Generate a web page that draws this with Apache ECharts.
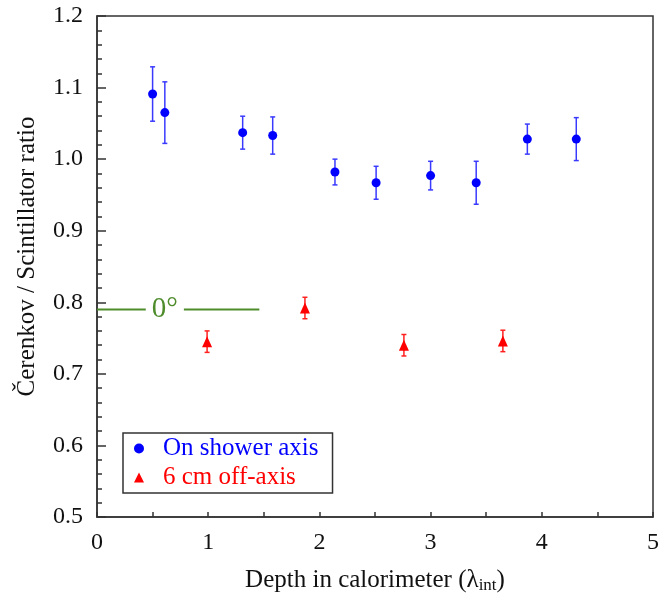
<!DOCTYPE html>
<html>
<head>
<meta charset="utf-8">
<script src="https://cdn.jsdelivr.net/npm/echarts@6/dist/echarts.min.js"></script>
<style>html,body{margin:0;padding:0;background:#fff}#c{width:662px;height:599px}</style>
</head>
<body>
<div id="c"></div>
<script>
// On shower axis
const blueX = [0.50, 0.61, 1.31, 1.58, 2.14, 2.51, 3.00, 3.41, 3.87, 4.31];
const blueY = [1.091, 1.065, 1.037, 1.033, 0.982, 0.967, 0.977, 0.967, 1.028, 1.028];
const blueErr = [0.038, 0.043, 0.023, 0.026, 0.018, 0.023, 0.020, 0.030, 0.021, 0.030];
// 6 cm off-axis
const redX = [0.99, 1.87, 2.76, 3.65];
const redY = [0.745, 0.792, 0.740, 0.746];
const redErr = [0.015, 0.015, 0.015, 0.015];
// 0 degree reference line
const refX = [0, 1.46];
const refY = 0.79;
const refLabelX = 0.61;
const refLabel = '0°';
const xTicks = [0, 1, 2, 3, 4, 5];
const yTicks = [0.5, 0.6, 0.7, 0.8, 0.9, 1.0, 1.1, 1.2];

const FONT = '"Liberation Serif", "DejaVu Serif", serif';

function errData(xs, ys, es) {
  return xs.map((x, i) => [x, ys[i], ys[i] - es[i], ys[i] + es[i]]);
}
function errRender(color) {
  return function (params, api) {
    const x = api.value(0);
    const lo = api.coord([x, api.value(2)]);
    const hi = api.coord([x, api.value(3)]);
    const cw = 2.5;
    const st = { stroke: color, lineWidth: 1.5 };
    return {
      type: 'group',
      children: [
        { type: 'line', shape: { x1: lo[0], y1: lo[1], x2: hi[0], y2: hi[1] }, style: st },
        { type: 'line', shape: { x1: lo[0] - cw, y1: lo[1], x2: lo[0] + cw, y2: lo[1] }, style: st },
        { type: 'line', shape: { x1: hi[0] - cw, y1: hi[1], x2: hi[0] + cw, y2: hi[1] }, style: st }
      ]
    };
  };
}

const chart = echarts.init(document.getElementById('c'), null, { renderer: 'canvas' });
chart.setOption({
  animation: false,
  backgroundColor: '#fff',
  textStyle: { fontFamily: FONT },
  grid: { left: 97, right: 6, top: 16, bottom: 78, show: true, borderColor: '#333', borderWidth: 1.5, backgroundColor: 'transparent' },
  xAxis: {
    type: 'value', min: xTicks[0], max: xTicks[xTicks.length - 1], interval: 1,
    name: '{n|Depth in calorimeter (λ}{s|int}{n|)}',
    nameLocation: 'middle', nameGap: 50,
    nameTextStyle: { rich: { n: { fontFamily: FONT, fontSize: 25, color: '#111' }, s: { fontFamily: FONT, fontSize: 17, color: '#111', verticalAlign: 'bottom', padding: [10, 0, 0, 0] } } },
    axisLine: { show: true, lineStyle: { color: '#333', width: 1.5 } },
    axisTick: { show: true, inside: true, length: 5, lineStyle: { color: '#333', width: 1.5 } },
    minorTick: { show: true, splitNumber: 2, length: 5, lineStyle: { color: '#333', width: 1.5 } },
    axisLabel: { fontFamily: FONT, fontSize: 24, color: '#111', margin: 14, formatter: v => String(v) },
    splitLine: { show: false }
  },
  yAxis: {
    type: 'value', min: yTicks[0], max: yTicks[yTicks.length - 1], interval: 0.1,
    name: 'Čerenkov / Scintillator ratio',
    nameLocation: 'middle', nameGap: 57, nameRotate: 90,
    nameTextStyle: { fontFamily: FONT, fontSize: 25, color: '#111', padding: [0, 0, 0, 20] },
    axisLine: { show: true, lineStyle: { color: '#333', width: 1.5 } },
    axisTick: { show: true, inside: true, length: 9, lineStyle: { color: '#333', width: 1.5 } },
    minorTick: { show: true, splitNumber: 5, length: 5, lineStyle: { color: '#333', width: 1.5 } },
    axisLabel: { fontFamily: FONT, fontSize: 24, color: '#111', margin: 14, formatter: v => v.toFixed(1) },
    splitLine: { show: false }
  },
  legend: {
    orient: 'vertical', left: 123, top: 433,
    borderColor: '#333', borderWidth: 1.5, padding: [3, 14, 3, 11],
    itemGap: 4, itemWidth: 10, itemHeight: 10,
    textStyle: { fontFamily: FONT, fontSize: 25, padding: [0, 0, 0, 14] },
    data: [
      { name: 'On shower axis', icon: 'circle', textStyle: { color: '#0000ff' } },
      { name: '6 cm off-axis', icon: 'triangle', textStyle: { color: '#ff0000' } }
    ]
  },
  series: [
    {
      name: 'ref', type: 'line', data: refX.map(x => [x, refY]), symbol: 'none',
      lineStyle: { color: '#4e8c2c', width: 2 }, z: 2, silent: true
    },
    {
      name: 'refLabel', type: 'scatter', data: [[refLabelX, refY]], symbolSize: 2,
      itemStyle: { color: 'rgba(255,255,255,0)', opacity: 1 }, z: 3, silent: true,
      label: { show: true, position: 'inside', formatter: refLabel, fontFamily: FONT, fontSize: 29, color: '#4e8c2c', opacity: 1, backgroundColor: '#fff', padding: [0, 6, 0, 6] }
    },
    { name: 'blueErr', type: 'custom', data: errData(blueX, blueY, blueErr), renderItem: errRender('#3a3aff'), z: 4 },
    { name: 'redErr', type: 'custom', data: errData(redX, redY, redErr), renderItem: errRender('#ff2020'), z: 4 },
    {
      name: 'On shower axis', type: 'scatter', data: blueX.map((x, i) => [x, blueY[i]]),
      symbol: 'circle', symbolSize: 9, itemStyle: { color: '#0000ff', opacity: 1 }, z: 5
    },
    {
      name: '6 cm off-axis', type: 'scatter', data: redX.map((x, i) => [x, redY[i]]),
      symbol: 'triangle', symbolSize: [10, 11], itemStyle: { color: '#ff0000', opacity: 1 }, z: 5
    }
  ]
});
</script>
</body>
</html>
